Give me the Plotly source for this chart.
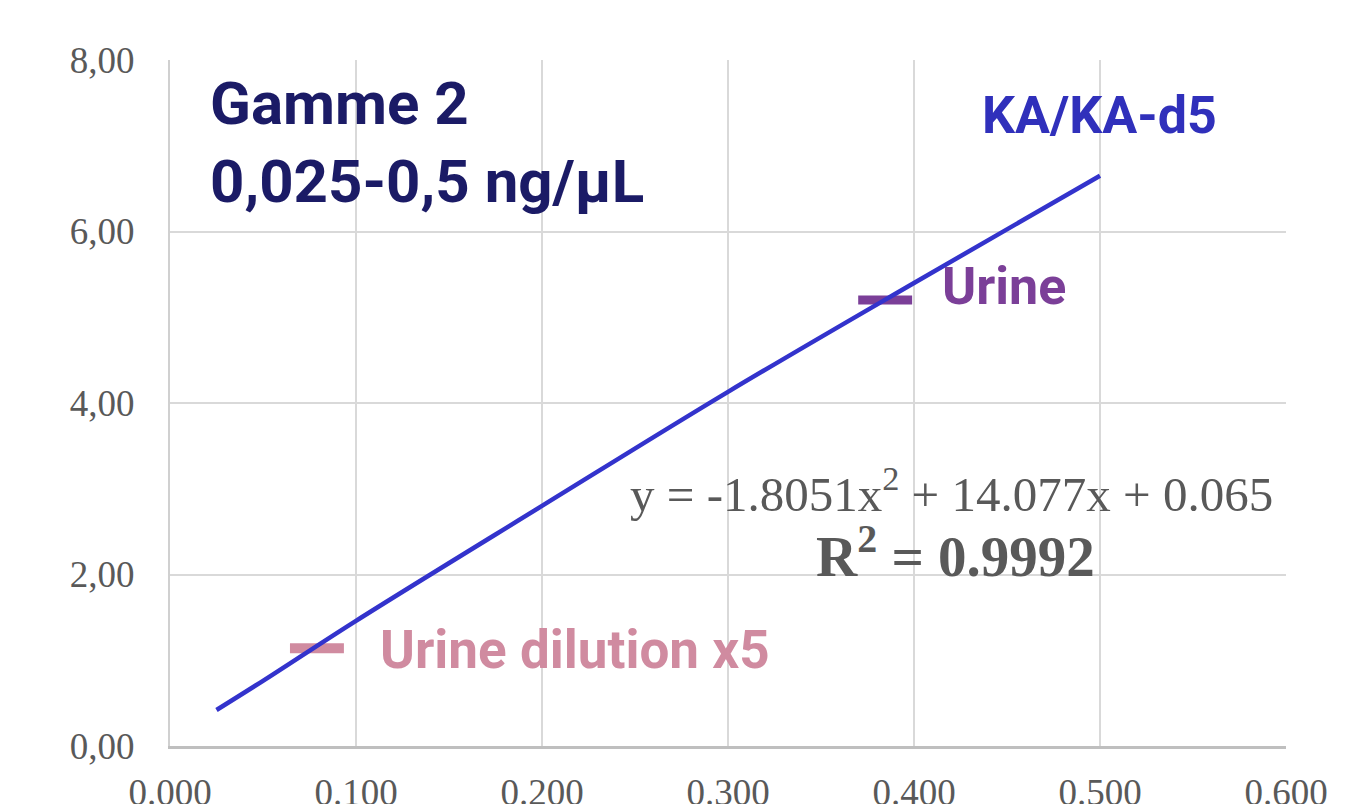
import plotly.graph_objects as go

# Calibration curve (KA/KA-d5)
conc = [0.025, 0.05, 0.1, 0.2, 0.3, 0.4, 0.5]
ratio = [0.42, 0.76, 1.46, 2.80, 4.13, 5.40, 6.65]

# Sample markers (short horizontal bars)
urine_x = [0.370, 0.399]
urine_y = [5.20, 5.20]
dil_x = [0.0645, 0.0935]
dil_y = [1.14, 1.14]

x_ticks = [0.0, 0.1, 0.2, 0.3, 0.4, 0.5, 0.6]
x_ticktext = ["0.000", "0.100", "0.200", "0.300", "0.400", "0.500", "0.600"]
y_ticks = [0, 2, 4, 6, 8]
y_ticktext = ["0,00", "2,00", "4,00", "6,00", "8,00"]

fig = go.Figure()
fig.add_trace(go.Scatter(x=urine_x, y=urine_y, mode="lines", line=dict(color="#7B3F98", width=9),
                         showlegend=False, hoverinfo="skip"))
fig.add_trace(go.Scatter(x=dil_x, y=dil_y, mode="lines", line=dict(color="#D08BA0", width=10),
                         showlegend=False, hoverinfo="skip"))
fig.add_trace(go.Scatter(x=conc, y=ratio, mode="lines", line=dict(color="#3333CC", width=4.5, shape="spline"),
                         showlegend=False, hoverinfo="skip"))

tick_font = dict(family="Liberation Serif, DejaVu Serif, serif", size=37, color="#595959")
fig.update_xaxes(range=[0, 0.6], tickvals=x_ticks, ticktext=x_ticktext, tickfont=tick_font,
                 showgrid=True, gridcolor="#D9D9D9", gridwidth=2, zeroline=False, automargin=False,
                 showline=True, linecolor="#BFBFBF", linewidth=3, ticks="", ticklabelstandoff=12)
fig.update_yaxes(range=[0, 8], tickvals=y_ticks, ticktext=y_ticktext, tickfont=tick_font,
                 showgrid=True, gridcolor="#D9D9D9", gridwidth=2, zeroline=False, automargin=False,
                 showline=True, linecolor="#D0D0D0", linewidth=2, ticks="", ticklabelstandoff=26)

title_font = dict(family="Roboto, DejaVu Sans, sans-serif", size=60, color="#1B1B66", weight="bold")
anns = [
    dict(text="Gamme 2", x=0.0204, y=7.49, font=title_font, xanchor="left"),
    dict(text="0,025-0,5 ng/µL", x=0.0204, y=6.58, font=title_font, xanchor="left"),
    dict(text="KA/KA-d5", x=0.4355, y=7.35, xanchor="left",
         font=dict(family="Roboto, DejaVu Sans, sans-serif", size=52, color="#3030BB", weight="bold")),
    dict(text="Urine", x=0.414, y=5.36, xanchor="left",
         font=dict(family="Roboto, DejaVu Sans, sans-serif", size=52, color="#7B3F98", weight="bold")),
    dict(text="Urine dilution x5", x=0.1118, y=1.12, xanchor="left",
         font=dict(family="Roboto, DejaVu Sans, sans-serif", size=53, color="#D08BA0", weight="bold")),
    dict(text="y = -1.8051x<sup>2</sup> + 14.077x + 0.065", x=0.420, y=2.98, xanchor="center",
         font=dict(family="Liberation Serif, DejaVu Serif, serif", size=49, color="#595959")),
    dict(text="<b>R<sup>2</sup> = 0.9992</b>", x=0.4225, y=2.26, xanchor="center",
         font=dict(family="Liberation Serif, DejaVu Serif, serif", size=57, color="#595959")),
]
for a in anns:
    fig.add_annotation(xref="x", yref="y", showarrow=False, yanchor="middle", **a)

# The page body adds an 8px offset; size and margins compensate so the plot box lands as in the reference
fig.update_layout(width=1338, height=796, margin=dict(l=162, r=60, t=52, b=58),
                  plot_bgcolor="white", paper_bgcolor="white")

fig.write_html("out.html")
